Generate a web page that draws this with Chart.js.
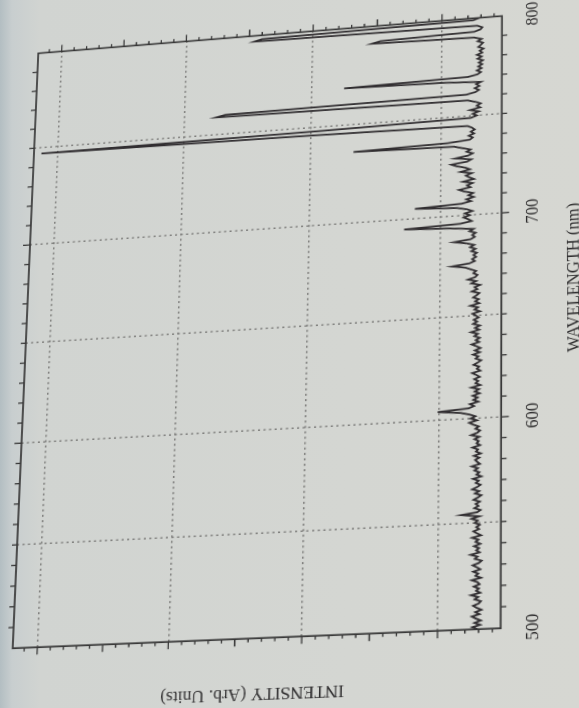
<!DOCTYPE html>
<html><head><meta charset="utf-8">
<script src="https://cdn.jsdelivr.net/npm/chart.js@4/dist/chart.umd.min.js"></script>
<style>
html,body{margin:0;padding:0;width:579px;height:708px;overflow:hidden;}
body{background:linear-gradient(90deg,#b3bec2 0px,#c8cecf 12px,#d1d4d1 40px,#d4d6d2 60%,#d6d7d2 100%);}
#wrap{position:absolute;left:0;top:0;width:708px;height:620px;transform-origin:0 0;}
#c{display:block;filter:blur(0.35px);}
</style></head><body>
<div id="wrap"><canvas id="c" width="708" height="620"></canvas></div>
<script>
// ---- data ----
const wavelengthStart = 500;   // nm, first sample
const wavelengthStep = 1;      // nm between samples
const intensity = [
  4.2, 4.9, 3.8, 4.6, 3.7, 4.4, 5.0, 3.9, 4.5, 3.6,
  4.3, 4.8, 4.0, 3.7, 4.6, 4.1, 5.1, 3.8, 4.4, 4.0,
  4.7, 3.9, 4.2, 5.0, 3.7, 4.5, 4.1, 4.8, 3.8, 4.3,
  4.9, 4.0, 3.6, 4.6, 4.2, 5.2, 3.9, 4.4, 4.0, 4.7,
  3.8, 4.5, 4.1, 5.0, 3.7, 4.3, 4.8, 4.0, 4.4, 3.9,
  4.6, 4.2, 5.1, 4.0, 6.6, 4.3, 3.8, 4.7, 4.1, 4.5,
  3.9, 4.8, 4.2, 3.7, 4.6, 4.0, 5.0, 4.3, 3.8, 4.5,
  4.1, 4.9, 3.7, 4.4, 4.0, 4.7, 4.2, 5.1, 3.9, 4.3,
  4.6, 4.0, 4.8, 3.8, 4.5, 4.2, 5.0, 3.9, 4.4, 4.1,
  4.7, 4.0, 5.2, 4.3, 3.9, 4.6, 4.1, 4.9, 5.5, 4.4,
  5.3, 4.6, 5.5, 6.8, 10.2, 5.6, 4.8, 5.4, 4.2, 4.9,
  4.3, 5.0, 4.0, 4.7, 4.1, 5.2, 3.9, 4.6, 4.2, 4.8,
  4.0, 4.5, 5.1, 3.9, 4.4, 4.1, 4.9, 4.3, 3.8, 4.6,
  4.2, 5.0, 4.0, 4.7, 3.9, 4.5, 5.2, 4.1, 4.6, 4.0,
  4.8, 4.3, 5.3, 4.1, 4.7, 4.0, 5.0, 4.4, 4.9, 4.2,
  4.6, 5.1, 4.0, 4.8, 4.3, 5.4, 4.1, 4.7, 4.2, 5.0,
  4.5, 4.1, 5.2, 4.4, 4.8, 4.0, 5.3, 4.6, 5.8, 4.7,
  4.4, 5.0, 4.6, 5.4, 6.2, 8.2, 5.6, 4.8, 5.2, 4.6,
  5.0, 4.5, 5.3, 4.7, 5.5, 4.9, 6.0, 7.9, 5.4, 4.8,
  5.2, 4.7, 5.6, 5.0, 8.5, 15.5, 7.0, 5.3, 5.8, 6.5,
  5.6, 6.3, 5.2, 6.0, 7.5, 13.9, 6.8, 5.4, 6.1, 5.0,
  5.8, 5.1, 6.4, 7.2, 5.5, 6.0, 5.2, 6.6, 5.0, 5.7,
  6.2, 5.3, 7.0, 5.6, 6.3, 7.6, 8.4, 6.0, 5.4, 7.8,
  5.9, 5.2, 6.1, 5.5, 6.8, 8.0, 23.4, 9.0, 5.6, 5.2,
  5.8, 5.0, 5.5, 4.9, 5.3, 6.0, 30.0, 72.6, 28.0, 5.5,
  4.6, 5.2, 4.3, 5.6, 4.1, 4.6, 4.0, 4.8, 6.0, 44.9,
  43.5, 6.2, 4.8, 4.3, 4.9, 4.2, 4.7, 4.0, 10.0, 25.0,
  6.0, 4.5, 4.0, 4.6, 3.9, 4.4, 3.8, 4.3, 3.7, 4.5,
  3.9, 4.6, 3.8, 4.2, 3.6, 4.4, 4.0, 3.7, 4.5, 3.9,
  5.0, 20.8, 19.5, 5.0, 4.1, 3.8, 4.6, 39.2, 38.0, 5.2,
  4.3
];
const wavelengthAxisTicks = [500, 550, 600, 650, 700, 750, 800];
const wavelengthLabels = [500, 600, 700, 800];
const wavelengthGrid = [550, 600, 650, 700, 750];
const wavelengthMinorTicks = [510,520,530,540,550,560,570,580,590,600,610,620,630,640,650,660,670,680,690,700,710,720,730,740,750,760,770,780,790];
const intensityAxisTicks = [10, 20, 30, 40, 50, 60, 70];
const intensityGrid = [10, 30, 50, 70];
const intensityMinorTicks = [2,4,6,8,12,14,16,18,22,24,26,28,32,34,36,38,42,44,46,48,52,54,56,58,62,64,66,68,72];
const xTitle = 'WAVELENGTH (nm)';
const yTitle = 'INTENSITY (Arb. Units)';
const xTitleAt = 666; // nm, centre of the axis title as printed

const points = intensity.map((v, i) => ({ x: wavelengthStart + i * wavelengthStep, y: v }));

// ---- drawing ----
const INK = '#2e2d2e';
const framePlugin = {
  id: 'frame',
  afterDraw(chart) {
    const { ctx, chartArea: a, scales: { x, y } } = chart;
    ctx.save();
    ctx.strokeStyle = '#383838';
    ctx.lineWidth = 1.7;
    ctx.strokeRect(a.left, a.top, a.right - a.left, a.bottom - a.top);
    ctx.lineWidth = 1.3;
    ctx.beginPath();
    wavelengthMinorTicks.forEach(w => {
      const px = x.getPixelForValue(w);
      const len = wavelengthLabels.includes(w) ? 7 : 5;
      ctx.moveTo(px, a.bottom); ctx.lineTo(px, a.bottom + len);
      ctx.moveTo(px, a.top); ctx.lineTo(px, a.top - len);
    });
    intensityAxisTicks.forEach(v => {
      const py = y.getPixelForValue(v);
      ctx.moveTo(a.left, py); ctx.lineTo(a.left - 7, py);
      ctx.moveTo(a.right, py); ctx.lineTo(a.right + 7, py);
    });
    intensityMinorTicks.forEach(v => {
      const py = y.getPixelForValue(v);
      ctx.moveTo(a.left, py); ctx.lineTo(a.left - 3.5, py);
      ctx.moveTo(a.right, py); ctx.lineTo(a.right + 3.5, py);
    });
    ctx.stroke();
    ctx.fillStyle = INK;
    ctx.font = '16.5px "Liberation Serif", serif';
    ctx.textAlign = 'center';
    ctx.textBaseline = 'middle';
    ctx.fillText(xTitle, x.getPixelForValue(xTitleAt), a.bottom + 67);
    ctx.restore();
  }
};

const serif = { family: '"Liberation Serif", serif', size: 16.5 };
const chart = new Chart(document.getElementById('c'), {
  type: 'line',
  data: { datasets: [{
    data: points, borderColor: 'rgba(40,37,40,0.95)', borderWidth: 1.8,
    pointRadius: 0, tension: 0, fill: false
  }] },
  options: {
    responsive: false, animation: false, events: [],
    layout: { padding: { left: 4, right: 26, top: 25, bottom: 80 } },
    plugins: { legend: { display: false }, tooltip: { enabled: false } },
    scales: {
      x: {
        type: 'linear', position: 'bottom', min: 500, max: 800,
        afterBuildTicks: s => { s.ticks = wavelengthAxisTicks.map(v => ({ value: v })); },
        ticks: { autoSkip: false, maxRotation: 0, minRotation: 0, padding: 20, color: INK, font: serif,
                 callback: v => wavelengthLabels.includes(v) ? String(v) : '' },
        grid: { drawTicks: false, lineWidth: 1.5,
                color: c => (c.tick && wavelengthGrid.includes(c.tick.value)) ? '#7f7f7d' : 'rgba(0,0,0,0)' },
        border: { display: false, dash: [2, 3.3] }
      },
      y: {
        type: 'linear', position: 'left', min: 0.8, max: 73.8,
        afterBuildTicks: s => { s.ticks = intensityAxisTicks.map(v => ({ value: v })); },
        ticks: { display: false },
        grid: { drawTicks: false, lineWidth: 1.5,
                color: c => (c.tick && intensityGrid.includes(c.tick.value)) ? '#7f7f7d' : 'rgba(0,0,0,0)' },
        border: { display: false, dash: [2, 3.3] },
        title: { display: true, text: yTitle, color: INK, font: serif, padding: { top: 4, bottom: 42 } }
      }
    }
  },
  plugins: [framePlugin]
});

// ---- photo perspective: map the plot corners onto where they sit in the picture ----
function solve(A, b) {
  const n = b.length;
  const M = A.map((r, i) => r.concat([b[i]]));
  for (let c = 0; c < n; c++) {
    let p = c;
    for (let r = c + 1; r < n; r++) if (Math.abs(M[r][c]) > Math.abs(M[p][c])) p = r;
    [M[c], M[p]] = [M[p], M[c]];
    for (let r = 0; r < n; r++) {
      if (r === c) continue;
      const f = M[r][c] / M[c][c];
      for (let k = c; k <= n; k++) M[r][k] -= f * M[c][k];
    }
  }
  return M.map((r, i) => r[n] / r[i]);
}
function applyWarp() {
  const a = chart.chartArea;
  const src = [[a.left, a.bottom], [a.left, a.top], [a.right, a.bottom], [a.right, a.top]];
  const dst = [[500.7, 628.3], [12.7, 648.3], [502, 16], [38.3, 53.3]];
  const A = [], b = [];
  for (let i = 0; i < 4; i++) {
    const [u, v] = src[i], [X, Y] = dst[i];
    A.push([u, v, 1, 0, 0, 0, -u * X, -v * X]); b.push(X);
    A.push([0, 0, 0, u, v, 1, -u * Y, -v * Y]); b.push(Y);
  }
  const [ha, hb, hc, hd, he, hf, hg, hh] = solve(A, b);
  document.getElementById('wrap').style.transform =
    `matrix3d(${ha},${hd},0,${hg},${hb},${he},0,${hh},0,0,1,0,${hc},${hf},0,1)`;
}
applyWarp();
</script>
</body></html>
